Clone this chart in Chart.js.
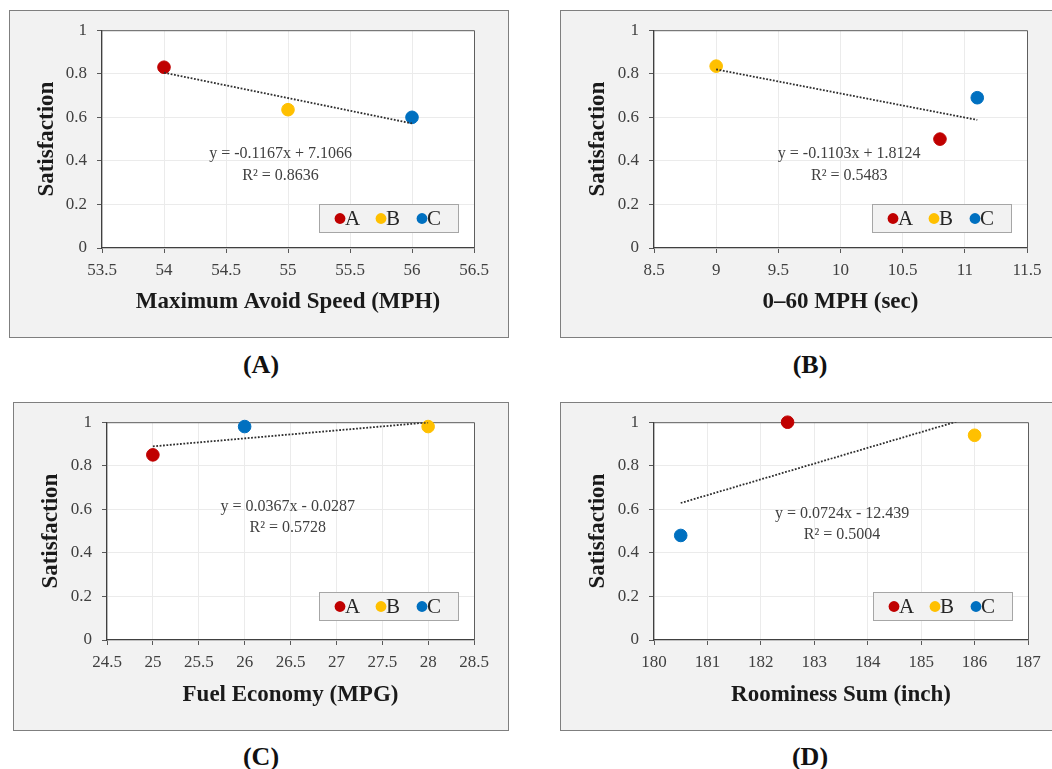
<!DOCTYPE html>
<html>
<head>
<meta charset="utf-8">
<script src="https://cdn.jsdelivr.net/npm/chart.js@4.4.1/dist/chart.umd.min.js"></script>
<style>
  body { margin: 0; width: 1052px; height: 769px; background: #fff; overflow: hidden; position: relative; font-family: "Liberation Serif", serif; }
  .panel { position: absolute; background: #f2f2f2; box-shadow: inset 0 0 0 1px #7f7f7f; }
  .panel canvas { position: absolute; left: 0; top: 0; }
  .cap { position: absolute; width: 120px; margin-left: -60px; text-align: center; font-weight: bold; font-size: 26px; line-height: 30px; color: #111; }
</style>
</head>
<body>
<div class="panel" style="left:9px;top:10px;width:500px;height:328px"><canvas id="chartA" width="500" height="328"></canvas></div>
<div class="panel" style="left:560px;top:10px;width:500px;height:328px"><canvas id="chartB" width="500" height="328"></canvas></div>
<div class="panel" style="left:13px;top:402px;width:496px;height:329px"><canvas id="chartC" width="496" height="329"></canvas></div>
<div class="panel" style="left:560px;top:402px;width:500px;height:329px"><canvas id="chartD" width="500" height="329"></canvas></div>
<div class="cap" style="left:261px;top:350px">(A)</div>
<div class="cap" style="left:810px;top:350px">(B)</div>
<div class="cap" style="left:261px;top:742px">(C)</div>
<div class="cap" style="left:810px;top:742px">(D)</div>

<script>
// Data
const seriesNames = ['A', 'B', 'C'];
const seriesColors = ['#c00000', '#ffc000', '#0070c0'];
const satisfactionTicks = [0, 0.2, 0.4, 0.6, 0.8, 1];

// (A) Maximum Avoid Speed
const speedX = [54, 55, 56];
const speedY = [0.83, 0.635, 0.60];
const speedTrendX = [54, 56];
const speedTrendY = [0.805, 0.572];

// (B) 0-60 MPH
const accelX = [10.8, 9, 11.1];
const accelY = [0.50, 0.835, 0.69];
const accelTrendX = [9, 11.1];
const accelTrendY = [0.82, 0.588];

// (C) Fuel economy
const fuelX = [25, 28, 26];
const fuelY = [0.85, 0.98, 0.98];
const fuelTrendX = [25, 28];
const fuelTrendY = [0.889, 0.999];

// (D) Roominess
const roomX = [182.5, 186, 180.5];
const roomY = [1.0, 0.94, 0.48];
const roomTrendX = [180.5, 186];
const roomTrendY = [0.629, 1.027];

const FONT = '"Liberation Serif", "Times New Roman", serif';
const plainNum = v => String(Math.round(v * 100) / 100);

// white plot area, frame, trendline equation and the boxed legend
const decor = {
  id: 'decor',
  beforeDraw(chart) {
    const { ctx, chartArea: a } = chart;
    ctx.save();
    ctx.fillStyle = '#ffffff';
    ctx.fillRect(a.left, a.top, a.right - a.left, a.bottom - a.top);
    ctx.restore();
  },
  beforeDatasetsDraw(chart, args, opts) {
    const { ctx, chartArea: a, scales } = chart;
    ctx.save();
    ctx.strokeStyle = '#5e5e5e';
    ctx.lineWidth = 1;
    ctx.beginPath();
    ctx.moveTo(a.left, a.top + 0.5);
    ctx.lineTo(a.right + 0.5, a.top + 0.5);
    ctx.lineTo(a.right + 0.5, a.bottom);
    ctx.stroke();

    ctx.fillStyle = '#404040';
    ctx.font = '16px ' + FONT;
    ctx.textAlign = 'center';
    ctx.textBaseline = 'middle';
    const ex = scales.x.getPixelForValue(opts.at[0]);
    ctx.fillText(opts.eq, ex, scales.y.getPixelForValue(opts.at[1]));
    ctx.fillText(opts.r2, ex, scales.y.getPixelForValue(opts.at[2]));

    const w = 139, h = 28;
    const lx = Math.round(a.right - 16 - w), ly = Math.round(a.bottom - opts.legendGap - h);
    ctx.fillStyle = '#f2f2f2';
    ctx.fillRect(lx, ly, w, h);
    ctx.strokeStyle = '#a6a6a6';
    ctx.strokeRect(lx + 0.5, ly + 0.5, w, h);
    ctx.font = '21px ' + FONT;
    ctx.textAlign = 'left';
    seriesNames.forEach((name, i) => {
      const cx = lx + 21 + i * 41, cy = ly + h / 2 + 0.5;
      ctx.fillStyle = seriesColors[i];
      ctx.beginPath();
      ctx.arc(cx, cy, 5.4, 0, Math.PI * 2);
      ctx.fill();
      ctx.fillStyle = '#262626';
      ctx.fillText(name, cx + 5, cy + 1);
    });
    ctx.restore();
  }
};

function makePanel(id, p) {
  const datasets = seriesNames.map((name, i) => ({
    label: name,
    data: [{ x: p.xs[i], y: p.ys[i] }],
    backgroundColor: seriesColors[i],
    borderColor: seriesColors[i],
    pointRadius: 6.3,
    pointHoverRadius: 6.3,
    clip: false,
    order: 1
  }));
  datasets.push({
    label: 'trend',
    data: p.trendX.map((x, i) => ({ x: x, y: p.trendY[i] })),
    showLine: true,
    borderColor: '#2e2e2e',
    borderWidth: 1.8,
    borderDash: [1.8, 1.6],
    pointRadius: 0,
    order: 0
  });

  new Chart(document.getElementById(id), {
    type: 'scatter',
    data: { datasets },
    options: {
      responsive: false,
      animation: false,
      devicePixelRatio: 1,
      layout: { padding: { left: 0, top: p.area.t, right: p.w - p.area.r, bottom: 0 } },
      plugins: {
        legend: { display: false },
        tooltip: { enabled: false },
        decor: { eq: p.eq, r2: p.r2, at: p.eqAt, legendGap: p.legendGap }
      },
      scales: {
        x: {
          type: 'linear',
          min: p.xMin, max: p.xMax,
          afterFit: s => { s.height = p.h - p.area.b; },
          ticks: { stepSize: p.xStep, padding: 7, color: '#404040', font: { family: FONT, size: 17 }, callback: plainNum },
          grid: { color: '#ebebeb', tickColor: '#595959', tickLength: 5, lineWidth: 1 },
          border: { color: '#404040', width: 1.3 },
          title: { display: true, text: p.xTitle, color: '#1a1a1a', padding: { bottom: 22 }, font: { family: FONT, size: 23, weight: 'bold' } }
        },
        y: {
          type: 'linear',
          min: 0, max: 1,
          afterFit: s => { s.width = p.area.l; },
          afterBuildTicks: s => { s.ticks = satisfactionTicks.map(v => ({ value: v })); },
          ticks: { padding: 10, color: '#404040', font: { family: FONT, size: 17 }, callback: plainNum },
          grid: { color: '#ebebeb', tickColor: '#595959', tickLength: 5, lineWidth: 1 },
          border: { color: '#404040', width: 1.3 },
          title: { display: true, text: 'Satisfaction', color: '#1a1a1a', padding: { top: 24 }, font: { family: FONT, size: 23, weight: 'bold' } }
        }
      }
    },
    plugins: [decor]
  });
}

makePanel('chartA', {
  w: 500, h: 328, area: { l: 93, t: 19, r: 465, b: 238 },
  xs: speedX, ys: speedY, trendX: speedTrendX, trendY: speedTrendY,
  xMin: 53.5, xMax: 56.5, xStep: 0.5, xTitle: 'Maximum Avoid Speed (MPH)',
  eq: 'y = -0.1167x + 7.1066', r2: 'R² = 0.8636', eqAt: [54.94, 0.434, 0.333], legendGap: 16
});
makePanel('chartB', {
  w: 500, h: 328, area: { l: 94, t: 19, r: 467, b: 238 },
  xs: accelX, ys: accelY, trendX: accelTrendX, trendY: accelTrendY,
  xMin: 8.5, xMax: 11.5, xStep: 0.5, xTitle: '0–60 MPH (sec)',
  eq: 'y = -0.1103x + 1.8124', r2: 'R² = 0.5483', eqAt: [10.07, 0.434, 0.333], legendGap: 16
});
makePanel('chartC', {
  w: 496, h: 329, area: { l: 94, t: 20, r: 461, b: 238 },
  xs: fuelX, ys: fuelY, trendX: fuelTrendX, trendY: fuelTrendY,
  xMin: 24.5, xMax: 28.5, xStep: 0.5, xTitle: 'Fuel Economy (MPG)',
  eq: 'y = 0.0367x - 0.0287', r2: 'R² = 0.5728', eqAt: [26.47, 0.61, 0.517], legendGap: 20
});
makePanel('chartD', {
  w: 500, h: 329, area: { l: 94, t: 20, r: 468, b: 238 },
  xs: roomX, ys: roomY, trendX: roomTrendX, trendY: roomTrendY,
  xMin: 180, xMax: 187, xStep: 1, xTitle: 'Roominess Sum (inch)',
  eq: 'y = 0.0724x - 12.439', r2: 'R² = 0.5004', eqAt: [183.52, 0.581, 0.483], legendGap: 20
});
</script>
</body>
</html>
